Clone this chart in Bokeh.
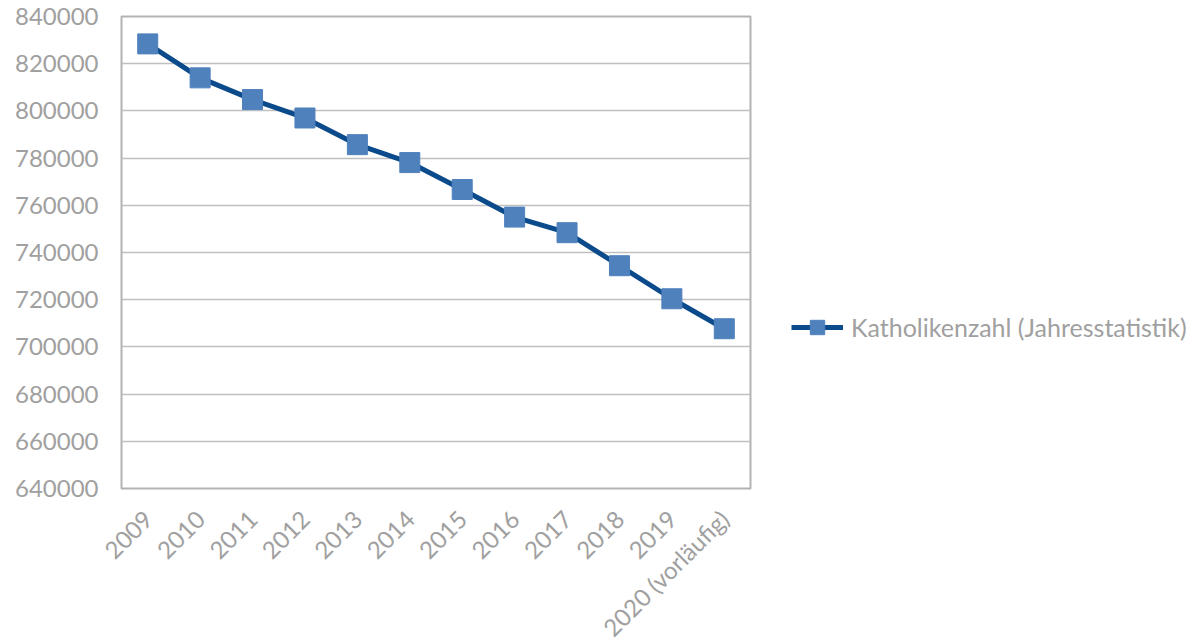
import math
from bokeh.plotting import figure
from bokeh.models import FixedTicker, Legend, LegendItem, BasicTickFormatter
from bokeh.embed import file_html
from bokeh.resources import INLINE

years = ["2009", "2010", "2011", "2012", "2013", "2014", "2015", "2016",
         "2017", "2018", "2019", "2020 (vorläufig)"]
katholiken = [828400, 814000, 804800, 797000, 785700, 778100, 766700, 755000,
              748400, 734400, 720400, 707700]
y_ticks = [640000, 660000, 680000, 700000, 720000, 740000, 760000, 780000,
           800000, 820000, 840000]
series_name = "Katholikenzahl (Jahresstatistik)"

FONT = "Lato"
GREY_TXT = "#a0a0a0"
GRID = "#c0c0c0"

p = figure(x_range=years, y_range=(640000, 840000),
           frame_width=629, frame_height=472,
           min_border_left=121, min_border_top=16,
           min_border_right=10, min_border_bottom=130,
           output_backend="svg", toolbar_location=None)

p.outline_line_color = "#b3b3b3"
p.outline_line_width = 2
p.background_fill_color = "white"
p.border_fill_color = "white"

p.xgrid.grid_line_color = None
p.ygrid.grid_line_color = GRID
p.ygrid.grid_line_width = 1.5

p.yaxis.ticker = FixedTicker(ticks=y_ticks)
p.yaxis.formatter = BasicTickFormatter(use_scientific=False)
for ax in (p.xaxis, p.yaxis):
    ax.axis_line_color = None
    ax.major_tick_line_color = None
    ax.minor_tick_line_color = None
    ax.major_tick_in = 0
    ax.major_tick_out = 0
    ax.minor_tick_in = 0
    ax.minor_tick_out = 0
    ax.major_label_text_font = FONT
    ax.major_label_text_font_size = "24px"
    ax.major_label_text_color = GREY_TXT
p.yaxis.major_label_standoff = 23
p.xaxis.major_label_standoff = 26
p.xaxis.major_label_orientation = math.pi / 4

line_r = p.line(years, katholiken, line_color="#0b4a8b", line_width=5)
pts_r = p.scatter(years, katholiken, marker="square", size=20,
                  fill_color="#4f81bd", line_color="#4f81bd")

legend = Legend(items=[LegendItem(label=series_name, renderers=[line_r, pts_r])],
                location=(41, 143), padding=0, margin=0, spacing=0,
                glyph_width=52, glyph_height=36, label_standoff=8,
                label_text_font=FONT, label_text_font_size="25px",
                label_text_color=GREY_TXT,
                background_fill_alpha=0, border_line_color=None)
p.add_layout(legend, "right")

open("out.html", "w").write(file_html(p, INLINE))
